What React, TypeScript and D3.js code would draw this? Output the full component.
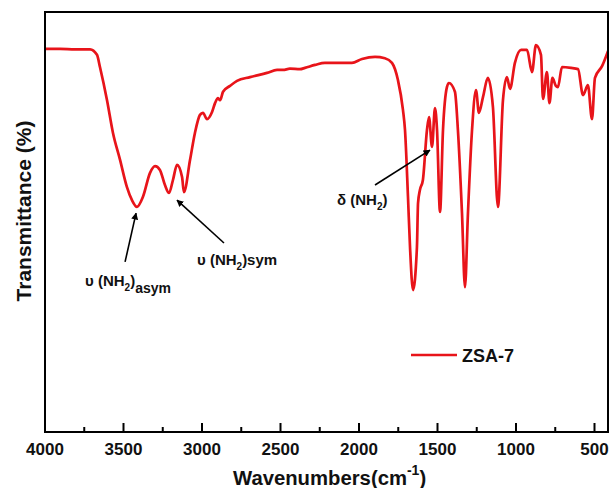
import React from "react";
import * as d3 from "d3";

const wavenumbers = [
  4000, 3904, 3809, 3713, 3669, 3650, 3605, 3567, 3522, 3478, 3446, 3414, 3376, 3331, 3299,
  3268, 3236, 3210, 3185, 3159, 3127, 3115, 3076, 3045, 3013, 2994, 2968, 2936, 2917, 2898,
  2885, 2866, 2822, 2777, 2694, 2586, 2522, 2484, 2440, 2376, 2344, 2280, 2217, 2045, 1981,
  1898, 1835, 1790, 1752, 1720, 1707, 1688, 1675, 1656, 1631, 1624, 1612, 1593, 1567, 1554,
  1535, 1516, 1503, 1484, 1465, 1440, 1427, 1389, 1370, 1344, 1325, 1306, 1280, 1255, 1236,
  1210, 1179, 1147, 1115, 1083, 1058, 1038, 1007, 968, 930, 898, 873, 841, 828, 803, 787,
  768, 746, 733, 707, 650, 605, 573, 542, 516, 497, 452, 414,
];
const transmittance = [
  91.2, 91.2, 91.1, 91.1, 89.8, 86.9, 79.0, 71.2, 64.8, 58.3, 55.2, 53.6, 56.0, 61.7, 63.3,
  62.4, 58.8, 56.9, 60.0, 63.6, 60.7, 57.1, 64.8, 71.2, 75.5, 76.0, 74.5, 76.2, 78.3, 79.5,
  79.0, 81.0, 82.4, 83.6, 84.5, 85.5, 86.2, 86.2, 86.5, 86.4, 86.7, 87.4, 87.9, 87.9, 88.8,
  89.3, 89.0, 87.9, 83.8, 76.7, 71.9, 56.0, 44.0, 33.8, 44.0, 54.5, 57.6, 60.0, 71.9, 75.0,
  67.9, 77.1, 71.9, 52.4, 71.9, 82.1, 83.1, 81.0, 71.9, 52.1, 34.5, 52.1, 71.9, 81.4, 76.0,
  79.8, 84.3, 77.4, 53.6, 79.0, 84.5, 81.7, 87.9, 91.0, 91.0, 85.7, 92.1, 89.8, 79.3, 85.7, 78.3,
  84.3, 82.4, 82.1, 86.9, 86.7, 86.4, 80.2, 82.6, 74.5, 84.3, 87.1, 90.7,
];
const majorTicks = [4000, 3500, 3000, 2500, 2000, 1500, 1000, 500];
const minorTicks = [3750, 3250, 2750, 2250, 1750, 1250, 750];
const seriesName = "ZSA-7";

// annotation arrows: [tailWn, tailT, tipWn, tipT]
const arrows = [
  [3490, 40.5, 3420, 52.1],
  [2860, 45.0, 3159, 55.2],
  [1898, 58.8, 1548, 67.1],
];

const W = 610;
const H = 488;
const left = 45;
const right = 608;
const top = 12;
const bottom = 432;
const RED = "#e8141a";
const FONT = "'Liberation Sans', Arial, sans-serif";

export default function App() {
  const x = d3.scaleLinear().domain([4000, 414]).range([left, right]);
  const y = d3.scaleLinear().domain([0, 100]).range([bottom, top]);
  const pts: [number, number][] = wavenumbers.map((w, i) => [w, transmittance[i]]);
  const line = d3
    .line<[number, number]>()
    .x((d) => x(d[0]))
    .y((d) => y(d[1]))
    .curve(d3.curveMonotoneX);

  return (
    <svg
      width={W}
      height={H}
      style={{ position: "absolute", left: 0, top: 0, background: "#fff" }}
      fontFamily={FONT}
    >
      <defs>
        <clipPath id="plot">
          <rect x={left} y={top} width={right - left} height={bottom - top} />
        </clipPath>
        <marker
          id="arrow"
          viewBox="0 0 10 10"
          refX="9"
          refY="5"
          markerWidth="7"
          markerHeight="7"
          markerUnits="userSpaceOnUse"
          orient="auto"
        >
          <path d="M0,0 L10,5 L0,10 z" fill="#000" />
        </marker>
      </defs>
      <rect width={W} height={H} fill="#fff" />
      <path
        d={line(pts) || ""}
        fill="none"
        stroke={RED}
        strokeWidth={2.7}
        strokeLinejoin="round"
        clipPath="url(#plot)"
      />
      {/* frame */}
      <rect
        x={left}
        y={top}
        width={right - left}
        height={bottom - top}
        fill="none"
        stroke="#000"
        strokeWidth={2}
      />
      {/* ticks */}
      {majorTicks.map((t) => (
        <g key={"M" + t}>
          <line x1={x(t)} x2={x(t)} y1={bottom} y2={bottom - 9} stroke="#000" strokeWidth={2} />
          <text
            x={x(t)}
            y={455}
            textAnchor="middle"
            fontSize={17}
            fontWeight="bold"
            fill="#111"
          >
            {t}
          </text>
        </g>
      ))}
      {minorTicks.map((t) => (
        <line
          key={"m" + t}
          x1={x(t)}
          x2={x(t)}
          y1={bottom}
          y2={bottom - 5}
          stroke="#000"
          strokeWidth={2}
        />
      ))}
      {/* axis titles */}
      <text x={233} y={485} fontSize={20.3} fontWeight="bold" fill="#111">
        Wavenumbers(cm
        <tspan fontSize={14} dy={-10}>-1</tspan>
        <tspan dy={10}>)</tspan>
      </text>
      <text
        transform="translate(31,211) rotate(-90)"
        textAnchor="middle"
        fontSize={21}
        fontWeight="bold"
        fill="#111"
      >
        Transmittance (%)
      </text>
      {/* arrows */}
      {arrows.map((a, i) => (
        <line
          key={"a" + i}
          x1={x(a[0])}
          y1={y(a[1])}
          x2={x(a[2])}
          y2={y(a[3])}
          stroke="#000"
          strokeWidth={1.6}
          markerEnd="url(#arrow)"
        />
      ))}
      {/* annotation labels */}
      <text x={85} y={286} fontSize={15} fontWeight="bold" fill="#111">
        υ (NH
        <tspan fontSize={10} dy={5}>2</tspan>
        <tspan dy={-5}>)</tspan>
        <tspan fontSize={14} dy={7}>asym</tspan>
      </text>
      <text x={197} y={265} fontSize={15} fontWeight="bold" fill="#111">
        υ (NH
        <tspan fontSize={10} dy={5}>2</tspan>
        <tspan dy={-5}>)sym</tspan>
      </text>
      <text x={337} y={205} fontSize={15} fontWeight="bold" fill="#111">
        δ (NH
        <tspan fontSize={10} dy={5}>2</tspan>
        <tspan dy={-5}>)</tspan>
      </text>
      {/* legend */}
      <line x1={411} x2={457} y1={355} y2={355} stroke={RED} strokeWidth={2.7} />
      <text x={462} y={362} fontSize={18} fontWeight="bold" fill="#111">
        {seriesName}
      </text>
    </svg>
  );
}
